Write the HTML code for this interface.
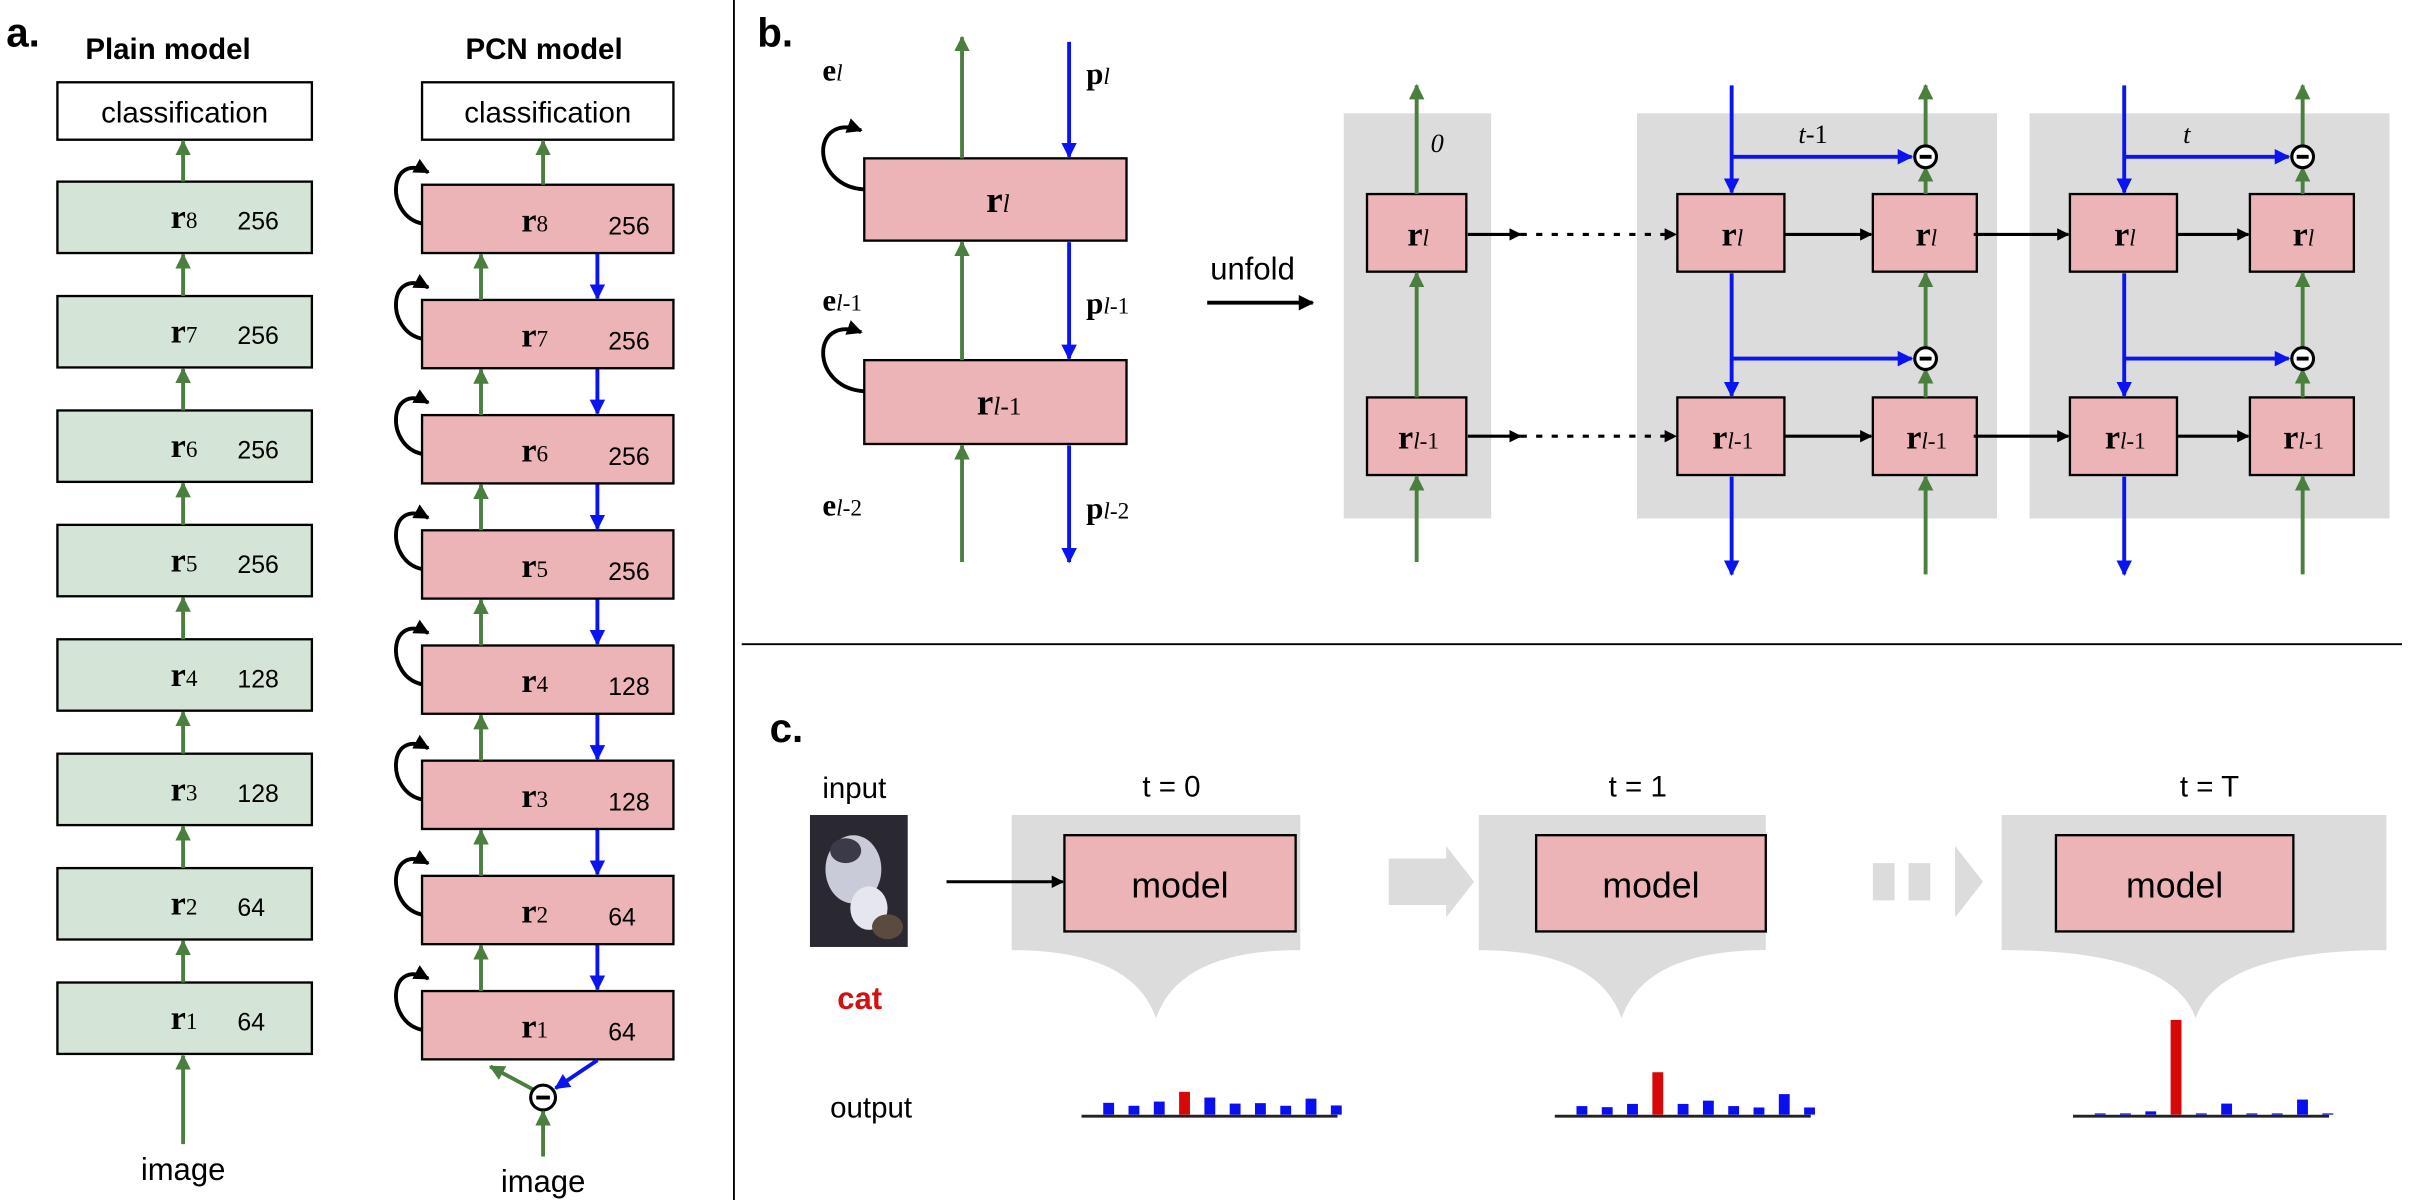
<!DOCTYPE html>
<html><head><meta charset="utf-8"><style>
html,body{margin:0;padding:0;background:#fff}
svg{display:block}
text{font-family:"Liberation Sans","DejaVu Sans",sans-serif}
.serif{font-family:"Liberation Serif",serif}
</style></head><body>
<svg id="fig" width="2433" height="1200" viewBox="0 0 1568 773" preserveAspectRatio="none" xmlns="http://www.w3.org/2000/svg">
<defs>
<marker id="ag" viewBox="0 0 10 10" refX="9" refY="5" markerWidth="4" markerHeight="5" orient="auto-start-reverse" markerUnits="strokeWidth"><path d="M0,0 L10,5 L0,10 z" fill="#4a7f3f"/></marker>
<marker id="ab" viewBox="0 0 10 10" refX="9" refY="5" markerWidth="4" markerHeight="5" orient="auto-start-reverse" markerUnits="strokeWidth"><path d="M0,0 L10,5 L0,10 z" fill="#0a14f0"/></marker>
<marker id="ak" viewBox="0 0 10 10" refX="9" refY="5" markerWidth="4" markerHeight="4" orient="auto-start-reverse" markerUnits="strokeWidth"><path d="M0,0 L10,5 L0,10 z" fill="#000"/></marker>
</defs>
<g id="dividers">
<line x1="473" y1="0" x2="473" y2="773" stroke="#000" stroke-width="1.2"/>
<line x1="478" y1="415" x2="1548" y2="415" stroke="#000" stroke-width="1.2"/>
</g>
<text x="4" y="30" font-size="26" font-weight="bold">a.</text>
<text x="55" y="38" font-size="19" font-weight="bold">Plain model</text>
<text x="300" y="38" font-size="19" font-weight="bold">PCN model</text>
<g id="panelA"></g>
<text x="488" y="30" font-size="26" font-weight="bold">b.</text>
<g id="panelB"></g>
<text x="496" y="478" font-size="26" font-weight="bold">c.</text>
<g id="panelC"></g>
</svg>
<script>
// Panel c output distributions (bar heights, relative units)
const classes = [0,1,2,3,4,5,6,7,8,9];
const trueClass = 3;
const outT0 = [7.6,5.7,8.4,14.7,11,7.1,7.4,5.7,10.3,5.9];
const outT1 = [5.5,4.8,6.9,27.3,6.9,9,5.5,4.6,13.2,4.6];
const outTT = [0.8,0.8,2.1,61,0.8,7.1,0.8,0.8,9.7,0.8];
const plainSizes = [64,64,128,128,256,256,256,256];
const pcnSizes = [64,64,128,128,256,256,256,256];
const timeLabels = ["t = 0","t = 1","t = T"];

const NS="http://www.w3.org/2000/svg";
function mk(parent,tag,attrs,txt){const e=document.createElementNS(NS,tag);for(const k in attrs)e.setAttribute(k,attrs[k]);if(txt!==undefined)e.textContent=txt;parent.appendChild(e);return e;}
const A=document.getElementById('panelA');
const B=document.getElementById('panelB');
const C=document.getElementById('panelC');
const G="#4a7f3f", BL="#0a14f0";

function arrow(p,x1,y1,x2,y2,col,mark,w,dash){const l=mk(p,'line',{x1,y1,x2,y2,stroke:col,'stroke-width':w||2.5,'marker-end':'url(#'+mark+')'});if(dash)l.setAttribute('stroke-dasharray',dash);return l;}
function rlabel(p,x,y,sub,fs){
  fs=fs||22;
  const t=mk(p,'text',{x,y,'font-size':fs,class:'serif'});
  mk(t,'tspan',{'font-weight':'bold'},'r');
  if(sub[0]==='l'){
    mk(t,'tspan',{'font-size':fs*0.68,'font-style':'italic'},'l');
    if(sub.length>1) mk(t,'tspan',{'font-size':fs*0.68},sub.slice(1));
  } else mk(t,'tspan',{'font-size':fs*0.68},sub);
  return t;}
function minusCircle(p,x,y,r){const g=mk(p,'g',{});mk(g,'circle',{cx:x,cy:y,r:r||7,fill:'#fff',stroke:'#000','stroke-width':2});mk(g,'line',{x1:x-(r||7)*0.55,y1:y,x2:x+(r||7)*0.55,y2:y,stroke:'#000','stroke-width':2.5});return g;}

// ---- Panel a: plain model
let cls=mk(A,'g',{});


mk(cls,'rect',{x:37,y:53,width:164,height:37,fill:'#fff',stroke:'#000','stroke-width':1.5});
mk(cls,'text',{x:119,y:79,'font-size':19,'text-anchor':'middle'},'classification');
for(let k=1;k<=8;k++){
  const top=117+(8-k)*73.7;
  const g=mk(A,'g',{});
  
  
  mk(g,'rect',{x:37,y:top,width:164,height:46,fill:'#d4e4d6',stroke:'#000','stroke-width':1.5});
  rlabel(g,110,top+30,String(k));
  mk(g,'text',{x:153,y:top+31,'font-size':16},String(plainSizes[k-1]));
  const above = k===8?90:117+(8-k-1)*73.7+46;
  arrow(g,118,top,118,above+1,G,'ag');
}
arrow(A,118,737,118,680,G,'ag');
let im1=mk(A,'text',{x:118,y:760,'font-size':20,'text-anchor':'middle'},'image');



// ---- Panel a: PCN model
let cls2=mk(A,'g',{});


mk(cls2,'rect',{x:272,y:53,width:162,height:37,fill:'#fff',stroke:'#000','stroke-width':1.5});
mk(cls2,'text',{x:353,y:79,'font-size':19,'text-anchor':'middle'},'classification');
for(let k=1;k<=8;k++){
  const top=119+(8-k)*74.2;
  const g=mk(A,'g',{});
  
  
  mk(g,'rect',{x:272,y:top,width:162,height:44,fill:'#ecb4b6',stroke:'#000','stroke-width':1.5});
  rlabel(g,336,top+30,String(k));
  mk(g,'text',{x:392,y:top+32,'font-size':16},String(pcnSizes[k-1]));
  mk(g,'path',{d:`M272,${top+25} C248,${top+20} 250,${top-22} 276,${top-8}`,fill:'none',stroke:'#000','stroke-width':2.5,'marker-end':'url(#ak)'});
  if(k<8){
    const above=119+(8-k-1)*74.2+44;
    arrow(g,310,top,310,above+1,G,'ag');
    arrow(g,385,above,385,top-1,BL,'ab');
  } else arrow(g,350,top,350,91,G,'ag');
}
mk(A,'line',{x1:344,y1:702,x2:316,y2:687,stroke:G,'stroke-width':2.5,'marker-end':'url(#ag)'});
mk(A,'line',{x1:385,y1:683,x2:358,y2:701,stroke:BL,'stroke-width':2.5,'marker-end':'url(#ab)'});
let mc=minusCircle(A,350,707,8);


arrow(A,350,745,350,716,G,'ag');
let im2=mk(A,'text',{x:350,y:768,'font-size':20,'text-anchor':'middle'},'image');



// ---- Panel b
function box(p,x,y,w,h,sub,fs){const g=mk(p,'g',{});mk(g,'rect',{x,y,width:w,height:h,fill:'#ecb4b6',stroke:'#000','stroke-width':1.5});rlabel(g,x+w/2-(sub.length>1?12:6),y+h/2+8,sub,fs||24);return g;}
function lab(p,x,y,ch,sub){const t=mk(p,'text',{x,y,'font-size':20,class:'serif'});mk(t,'tspan',{'font-weight':'bold'},ch);mk(t,'tspan',{'font-size':15,'font-style':'italic'},'l');if(sub.includes('-'))mk(t,'tspan',{'font-size':15},sub.slice(sub.indexOf('-')));return t;}
let bl1=box(B,557,102,169,53,'l');


let bl2=box(B,557,232,169,54,'l-1');


arrow(B,620,102,620,24,G,'ag');
arrow(B,689,27,689,101,BL,'ab');
arrow(B,620,232,620,156,G,'ag');
arrow(B,689,156,689,231,BL,'ab');
arrow(B,620,362,620,287,G,'ag');
arrow(B,689,287,689,362,BL,'ab');
mk(B,'path',{d:'M557,122 C522,120 522,72 555,84',fill:'none',stroke:'#000','stroke-width':2.5,'marker-end':'url(#ak)'});
mk(B,'path',{d:'M557,252 C522,250 522,202 555,214',fill:'none',stroke:'#000','stroke-width':2.5,'marker-end':'url(#ak)'});
lab(B,530,52,'e','l');lab(B,700,54,'p','l');
lab(B,530,200,'e','l-1');lab(B,700,202,'p','l-1');
lab(B,530,332,'e','l-2');lab(B,700,334,'p','l-2');
let uf=mk(B,'text',{x:780,y:180,'font-size':20},'unfold');


arrow(B,778,195,846,195,'#000','ak',2.5);
// column 0
mk(B,'rect',{x:866,y:73,width:95,height:261,fill:'#dcdcdc'});
mk(B,'text',{x:922,y:98,'font-size':17,'font-style':'italic',class:'serif'},'0');
box(B,881,125,64,50,'l',22);box(B,881,256,64,50,'l-1',22);
arrow(B,913,125,913,55,G,'ag');arrow(B,913,256,913,176,G,'ag');arrow(B,913,362,913,307,G,'ag');
arrow(B,946,151,980,151,'#000','ak',2);arrow(B,946,281,980,281,'#000','ak',2);
function col(x0,bx1,bx2,lbl){
  const g=mk(B,'g',{});
  mk(g,'rect',{x:x0,y:73,width:232,height:261,fill:'#dcdcdc'});
  const tl=mk(g,'text',{x:(bx1+bx2)/2+15,y:92,'font-size':17,class:'serif'});
  mk(tl,'tspan',{'font-style':'italic'},'t');if(lbl)mk(tl,'tspan',{},lbl);
  box(g,bx1,125,69,50,'l',22);box(g,bx2,125,67,50,'l',22);
  box(g,bx1,256,69,50,'l-1',22);box(g,bx2,256,67,50,'l-1',22);
  const bx=bx1+35, gx=bx2+34;
  arrow(g,bx,55,bx,124,BL,'ab');arrow(g,bx,176,bx,255,BL,'ab');arrow(g,bx,307,bx,370,BL,'ab');
  mk(g,'polyline',{points:`${bx},101 ${gx-9},101`,stroke:BL,'stroke-width':2.5,fill:'none','marker-end':'url(#ab)'});
  mk(g,'polyline',{points:`${bx},231 ${gx-9},231`,stroke:BL,'stroke-width':2.5,fill:'none','marker-end':'url(#ab)'});
  arrow(g,gx,125,gx,108,G,'ag');arrow(g,gx,94,gx,55,G,'ag');
  arrow(g,gx,256,gx,238,G,'ag');arrow(g,gx,224,gx,176,G,'ag');
  arrow(g,gx,370,gx,307,G,'ag');
  minusCircle(g,gx,101,7);minusCircle(g,gx,231,7);
  arrow(g,bx1+69,151,bx2-1,151,'#000','ak',2);arrow(g,bx1+69,281,bx2-1,281,'#000','ak',2);
  return g;
}
let c1=col(1055,1081,1207,'-1');


let c2=col(1308,1334,1450,'');


mk(B,'line',{x1:980,y1:151,x2:1080,y2:151,stroke:'#000','stroke-width':2,'stroke-dasharray':'4,6','marker-end':'url(#ak)'});
mk(B,'line',{x1:980,y1:281,x2:1080,y2:281,stroke:'#000','stroke-width':2,'stroke-dasharray':'4,6','marker-end':'url(#ak)'});
arrow(B,1272,151,1333,151,'#000','ak',2);arrow(B,1272,281,1333,281,'#000','ak',2);

// ---- Panel c
mk(C,'text',{x:530,y:514,'font-size':19},'input');
const cat=mk(C,'g',{});


mk(cat,'rect',{x:522,y:525,width:63,height:85,fill:'#2a2830'});
mk(cat,'ellipse',{cx:550,cy:560,rx:18,ry:22,fill:'#c9ccd8'});
mk(cat,'ellipse',{cx:545,cy:548,rx:10,ry:8,fill:'#3a3a48'});
mk(cat,'ellipse',{cx:560,cy:585,rx:12,ry:14,fill:'#e6e6ee'});
mk(cat,'ellipse',{cx:572,cy:597,rx:10,ry:8,fill:'#5a4a40'});
let ct=mk(C,'text',{x:554,y:650,'font-size':20,'font-weight':'bold',fill:'#d21010','text-anchor':'middle'},'cat');


mk(C,'text',{x:535,y:720,'font-size':19},'output');
// gray chevrons
mk(C,'path',{d:'M895,553 H932 V545 L950,568 L932,591 V583 H895 Z',fill:'#dcdcdc'});
mk(C,'rect',{x:1207,y:556,width:14,height:24,fill:'#dcdcdc'});
mk(C,'rect',{x:1230,y:556,width:14,height:24,fill:'#dcdcdc'});
mk(C,'path',{d:'M1260,545 L1278,568 L1260,591 Z',fill:'#dcdcdc'});
const steps=[{x0:652,x1:838,tip:745,mx:686,mw:149,d:outT0,bx:711},{x0:953,x1:1138,tip:1045,mx:990,mw:148,d:outT1,bx:1016},{x0:1290,x1:1538,tip:1415,mx:1325,mw:153,d:outTT,bx:1350}];
const yBase=718, yScale=1.0, bw=7, step=16.3;
function xBar(s,i){return s.bx+i*step;}
function yBar(v){return yBase-v*yScale;}
steps.forEach((s,si)=>{
  const g=mk(C,'g',{});
  
  
  mk(g,'path',{d:`M${s.x0},525 H${s.x1} V612 Q${s.tip+15},612 ${s.tip},656 Q${s.tip-15},612 ${s.x0},612 Z`,fill:'#dcdcdc'});
  mk(g,'text',{x:(s.x0+s.x1)/2+10,y:513,'font-size':19,'text-anchor':'middle'},timeLabels[si]);
  mk(g,'rect',{x:s.mx,y:538,width:s.mw,height:62,fill:'#ecb4b6',stroke:'#000','stroke-width':1.5});
  mk(g,'text',{x:s.mx+s.mw/2,y:578,'font-size':23,'text-anchor':'middle'},'model');
  const ch=mk(C,'g',{});
  
  
  mk(ch,'line',{x1:s.bx-14,y1:yBase+1,x2:s.bx+151,y2:yBase+1,stroke:'#222','stroke-width':1.8});
  classes.forEach(i=>{
    const v=s.d[i];
    const r=mk(ch,'rect',{x:xBar(s,i),y:yBar(v),width:bw,height:v*yScale,fill:i===trueClass?'#d80808':'#0a0ff0'});
    
    
  });
});
const inArrow=arrow(C,610,568,685,568,'#000','ak',2);


</script>
</body></html>
